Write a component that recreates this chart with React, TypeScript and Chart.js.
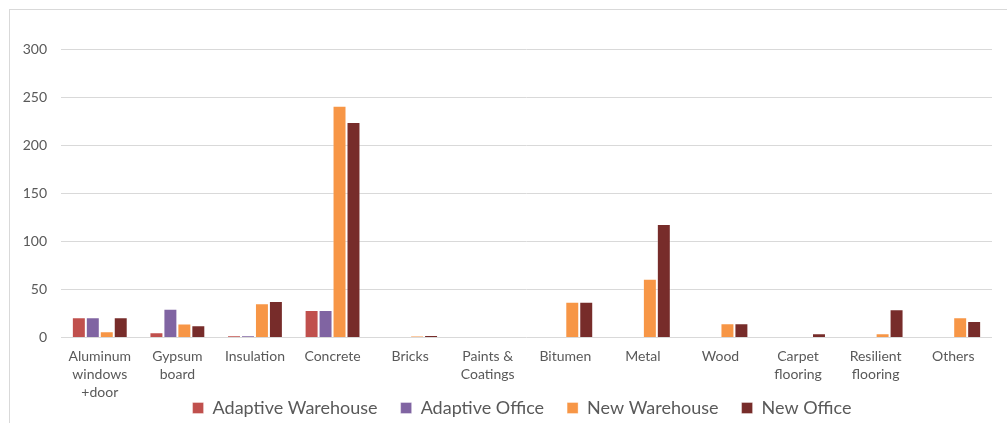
import React, { useEffect, useRef } from "react";
import { Chart, registerables } from "chart.js";

Chart.register(...registerables);

const categories: (string | string[])[] = [
  ["Aluminum", "windows", "+door"],
  ["Gypsum", "board"],
  "Insulation",
  "Concrete",
  "Bricks",
  ["Paints &", "Coatings"],
  "Bitumen",
  "Metal",
  "Wood",
  ["Carpet", "flooring"],
  ["Resilient", "flooring"],
  "Others",
];

const adaptiveWarehouse = [21, 5.5, 2.3, 28.5, 0, 0, 0, 0, 0, 0, 0, 0];
const adaptiveOffice = [21, 30, 2, 28.5, 0, 0, 0, 0, 0, 0, 0, 0];
const newWarehouse = [6.5, 14.5, 35.6, 241, 1.5, 0, 37.3, 61, 14.8, 0, 4.3, 21];
const newOffice = [21, 12.7, 38, 224, 2.6, 0.4, 37.3, 118, 14.8, 4.3, 29.4, 17.2];

const seriesNames = ["Adaptive Warehouse", "Adaptive Office", "New Warehouse", "New Office"];
const seriesColors = ["#C0504D", "#8064A2", "#F79646", "#772C2A"];

const yMin = 0;
const yMax = 300;
const yStep = 50;

const FONT = "Lato, 'Liberation Sans', sans-serif";
const TEXT = "#595959";
const LEGEND_PAD = 23;
const LEGEND_SIZE = 18;
const LEGEND_CENTER_Y = 408;
const LEGEND_SHIFT_X = 26;

const legendShift = {
  id: "legendShift",
  beforeDraw(chart: any) {
    const lg = chart.legend;
    if (!lg) return;
    const top = LEGEND_CENTER_Y - LEGEND_PAD - LEGEND_SIZE / 2;
    lg.top = top;
    lg.bottom = chart.height;
    lg.left += LEGEND_SHIFT_X;
    lg.right += LEGEND_SHIFT_X;
  },
};

export default function App() {
  const ref = useRef<HTMLCanvasElement | null>(null);

  useEffect(() => {
    if (!ref.current) return;
    const values = [adaptiveWarehouse, adaptiveOffice, newWarehouse, newOffice];
    const chart = new Chart(ref.current, {
      type: "bar",
      data: {
        labels: categories,
        datasets: values.map((v, i) => ({
          label: seriesNames[i],
          data: v,
          backgroundColor: seriesColors[i],
          borderColor: "rgba(255,255,255,0.35)",
          borderWidth: 1,
          categoryPercentage: 0.72,
          barPercentage: 1,
        })),
      },
      plugins: [legendShift],
      options: {
        responsive: false,
        animation: false,
        devicePixelRatio: 1,
        layout: { padding: { left: 0, right: 15, top: 49, bottom: 0 } },
        plugins: {
          tooltip: { enabled: false },
          legend: {
            position: "bottom",
            maxHeight: 23.5,
            labels: {
              boxWidth: 11,
              boxHeight: 11,
              padding: LEGEND_PAD,
              color: TEXT,
              font: { family: FONT, size: LEGEND_SIZE },
            },
          },
        },
        scales: {
          x: {
            grid: { display: false, drawTicks: false },
            border: { display: false },
            ticks: {
              color: TEXT,
              font: { family: FONT, size: 14, lineHeight: 1.29 },
              padding: 10,
              maxRotation: 0,
              autoSkip: false,
            },
            afterFit: (s: any) => {
              s.height = 62;
            },
          },
          y: {
            min: yMin,
            max: yMax,
            ticks: {
              stepSize: yStep,
              padding: 14,
              color: TEXT,
              font: { family: FONT, size: 14 },
            },
            grid: { color: "#d9d9d9", drawTicks: false, lineWidth: 1 },
            border: { display: false },
            afterFit: (s: any) => {
              s.width = 61;
            },
          },
        },
      },
    });
    return () => chart.destroy();
  }, []);

  return (
    <div>
      <div
        style={{
          position: "absolute",
          left: 9,
          top: 9,
          width: 998,
          height: 414,
          borderTop: "1px solid #d9d9d9",
          borderLeft: "1px solid #d9d9d9",
          boxSizing: "border-box",
        }}
      />
      <canvas
        ref={ref}
        width={1007}
        height={423}
        style={{ position: "absolute", left: 0, top: 0, width: 1007, height: 423 }}
      />
    </div>
  );
}
